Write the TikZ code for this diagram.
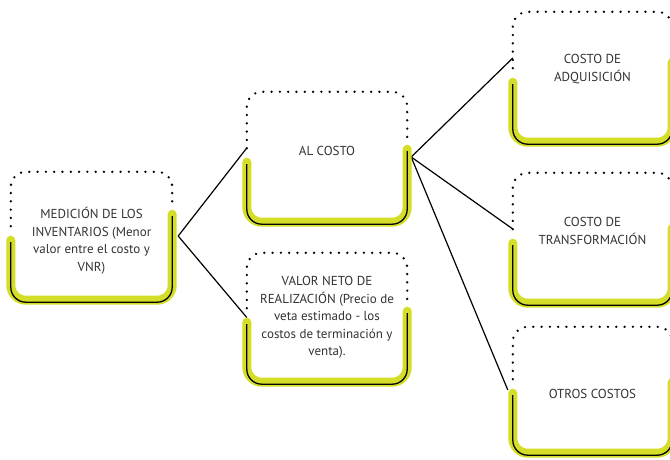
\documentclass[tikz,border=0pt]{standalone}
\usepackage{fontspec}
\setmainfont{PT Sans}
\definecolor{lima}{RGB}{212,221,40}
\definecolor{tinta}{RGB}{50,50,50}

% frame of one box: node name, height of the right yellow end
\newcommand{\marco}[2]{%
  \draw[puntos] ([yshift=74pt]#1.south west) |- (#1.north east) -- ([yshift=#2pt+11pt]#1.south east);
  \draw[banda] ([yshift=60pt]#1.south west) -- (#1.south west) -- (#1.south east) -- ([yshift=#2pt]#1.south east);
  \draw[filete] ([yshift=58pt]#1.south west) -- ([yshift=-2pt]#1.south west) -- ([yshift=-2pt]#1.south east) -- ([yshift=#2pt-2pt]#1.south east);
}

\begin{document}
\begin{tikzpicture}[x=1pt,y=-1pt,
    caja/.style={rectangle,draw=none,inner sep=0pt},
    texto/.style={inner sep=0pt,align=center,text=tinta,font=\fontsize{13}{17.5}\selectfont},
    puntos/.style={line width=2.6pt,dash pattern=on 0pt off 8.3pt,line cap=round,rounded corners=15pt},
    banda/.style={lima,line width=9pt,line cap=round,rounded corners=15pt},
    filete/.style={black,line width=1.3pt,rounded corners=15pt},
    enlace/.style={black,line width=1.2pt}]
        \useasboundingbox (0,0) rectangle (670,460);

        \node[caja,minimum width=161pt,minimum height=128pt] (medicion) at (91.5,236) {};
        \node[caja,minimum width=160pt,minimum height=130pt] (alcosto) at (327,157) {};
        \node[caja,minimum width=160pt,minimum height=129pt] (valor) at (327,317.5) {};
        \node[caja,minimum width=159pt,minimum height=130pt] (adquisicion) at (592.5,77) {};
        \node[caja,minimum width=159pt,minimum height=130pt] (transformacion) at (592.5,238) {};
        \node[caja,minimum width=159pt,minimum height=126pt] (otros) at (592.5,390) {};

        \draw[enlace] ([xshift=6pt]medicion.east) -- ([yshift=9pt]alcosto.west);
        \draw[enlace] ([xshift=6pt]medicion.east) -- (valor.west);
        \draw[enlace] ([xshift=4pt]alcosto.east) -- ([yshift=19pt]adquisicion.west);
        \draw[enlace] ([xshift=4pt]alcosto.east) -- ([yshift=9pt]transformacion.west);
        \draw[enlace] ([xshift=4pt]alcosto.east) -- ([xshift=-5pt]otros.west);

        \marco{medicion}{86}
        \marco{alcosto}{73}
        \marco{valor}{71}
        \marco{adquisicion}{80}
        \marco{transformacion}{75}
        \marco{otros}{71}

        \node[texto,yshift=-5pt] (medicion-t) at (medicion) {MEDICIÓN DE LOS\\INVENTARIOS (Menor\\valor entre el costo y\\VNR)};
        \node[texto,yshift=6pt] (alcosto-t) at (alcosto) {AL COSTO};
        \node[texto] (valor-t) at (valor) {VALOR NETO DE\\REALIZACIÓN (Precio de\\veta estimado - los\\costos de terminación y\\venta).};
        \node[texto,yshift=8pt] (adquisicion-t) at (adquisicion) {COSTO DE\\ADQUISICIÓN};
        \node[texto,yshift=7pt] (transformacion-t) at (transformacion) {COSTO DE\\TRANSFORMACIÓN};
        \node[texto,yshift=-4pt] (otros-t) at (otros) {OTROS COSTOS};
      \end{tikzpicture}
\end{document}
